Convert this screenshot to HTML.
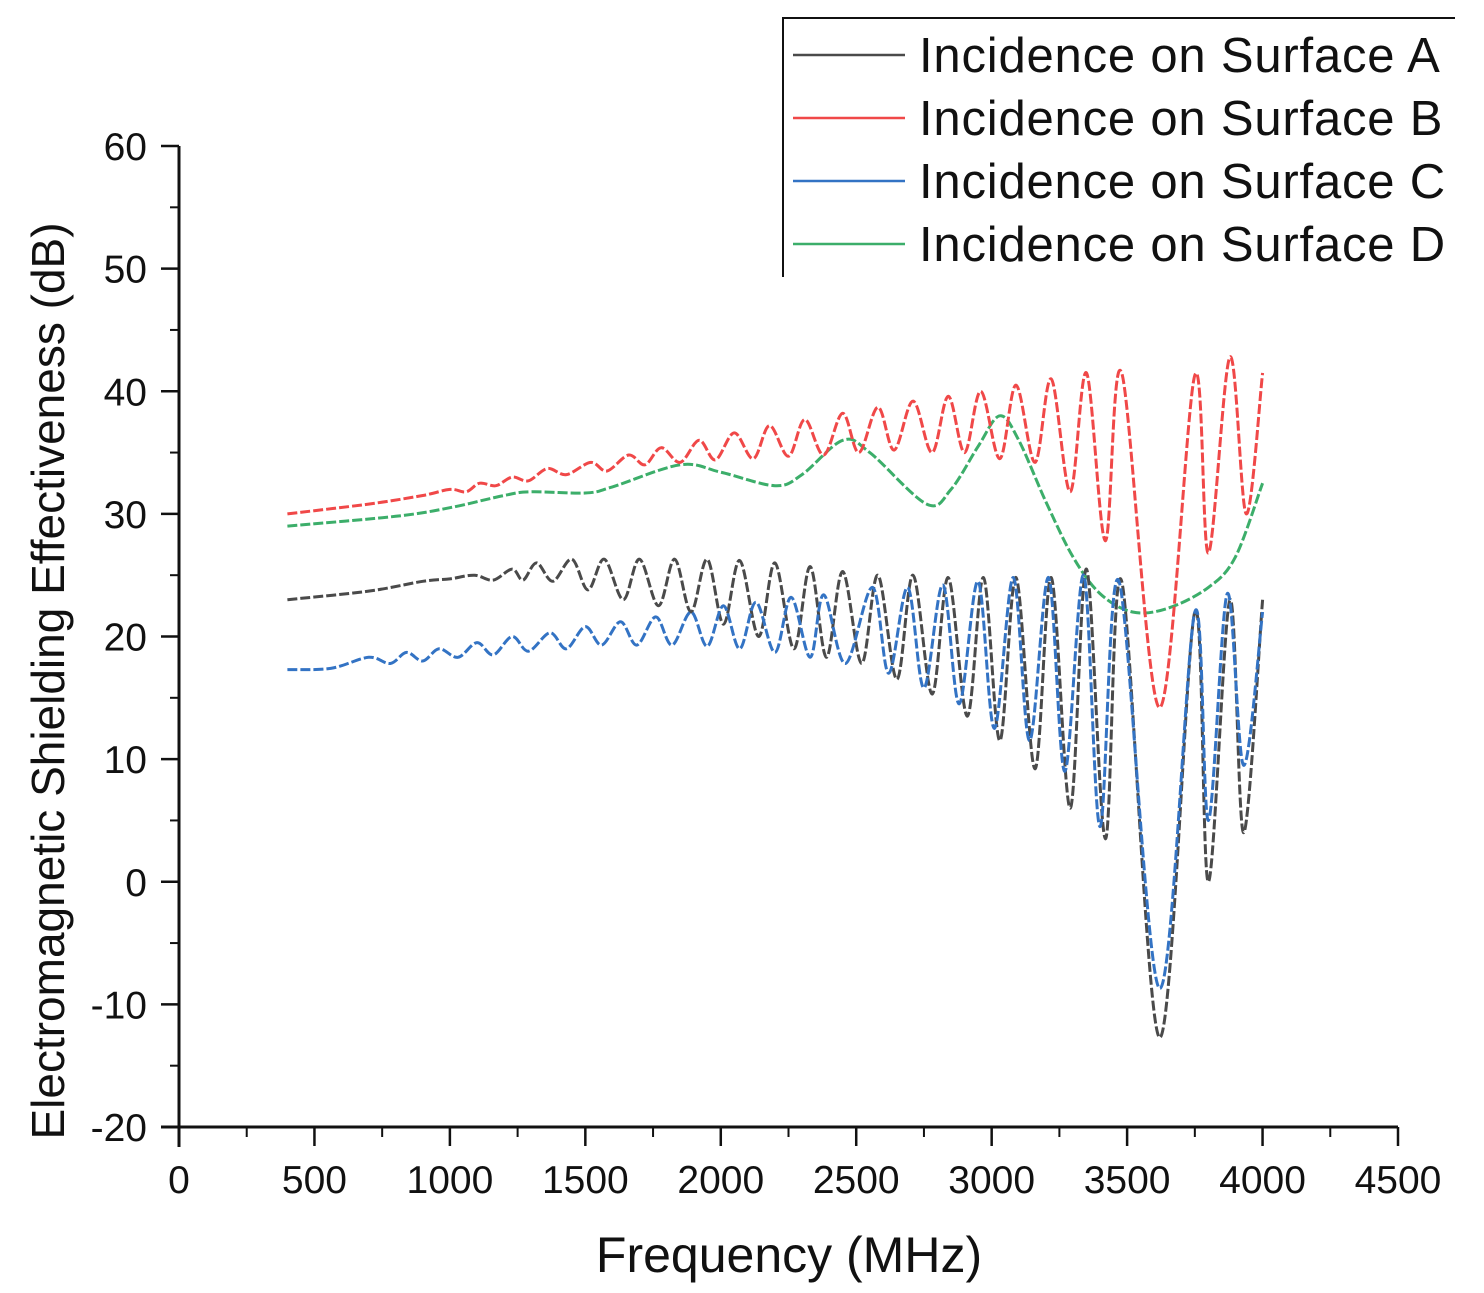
<!DOCTYPE html>
<html><head><meta charset="utf-8"><style>
html,body{margin:0;padding:0;background:#fff;}
svg{display:block;font-family:"Liberation Sans",Arial,sans-serif;}
</style></head><body>
<svg id="chart" width="1484" height="1293" viewBox="0 0 1484 1293" xmlns="http://www.w3.org/2000/svg">
<g id="axes"></g>
<g id="series"></g>
<g id="legend">
  <path d="M783,277 L783,18 L1455,18" fill="none" stroke="#111" stroke-width="2"/>
</g>
<text x="789" y="1272" font-size="50" text-anchor="middle" fill="#111">Frequency (MHz)</text>
<text transform="translate(64,681) rotate(-90)" font-size="46" text-anchor="middle" fill="#111">Electromagnetic Shielding Effectiveness (dB)</text>
</svg>
<script>
const xTicks = [0,500,1000,1500,2000,2500,3000,3500,4000,4500];
const yTicks = [-20,-10,0,10,20,30,40,50,60];
const seriesNames = ["Incidence on Surface A","Incidence on Surface B","Incidence on Surface C","Incidence on Surface D"];
const freqA = [400,700,900,1000,1090,1160,1230,1270,1320,1380,1450,1510,1570,1640,1700,1770,1830,1890,1950,2010,2070,2140,2200,2270,2330,2390,2450,2520,2580,2650,2710,2780,2840,2910,2970,3030,3090,3160,3220,3290,3350,3420,3480,3620,3750,3800,3880,3930,4000];
const valA  = [23,23.7,24.5,24.7,25,24.6,25.5,24.6,26,24.5,26.3,23.8,26.3,23,26.3,22.5,26.3,22,26.3,21,26.2,20,26,19,25.7,18.3,25.3,17.8,25,16.5,25,15.3,24.8,13.5,24.8,11.5,24.8,9.2,24.8,6,25.5,3.5,24.5,-12.7,22,0,23,4,23];
const freqB = [400,700,900,1000,1060,1110,1170,1230,1290,1360,1430,1520,1580,1660,1720,1780,1850,1920,1980,2050,2120,2180,2250,2310,2380,2450,2510,2580,2640,2710,2780,2840,2900,2960,3030,3090,3160,3220,3290,3350,3420,3480,3620,3750,3800,3880,3940,4000];
const valB  = [30,30.8,31.5,32,31.8,32.5,32.3,33,32.7,33.7,33.2,34.2,33.5,34.8,34,35.4,34.2,36,34.4,36.6,34.5,37.2,34.7,37.7,34.8,38.2,35,38.7,35.2,39.2,35,39.6,35,40,34.5,40.5,34.2,41,31.8,41.5,27.8,41.5,14.2,41.3,26.8,42.8,30,41.5];
const freqC = [400,560,700,780,840,900,960,1030,1100,1160,1230,1290,1370,1430,1500,1560,1630,1690,1760,1820,1890,1950,2010,2070,2130,2200,2260,2330,2380,2460,2560,2620,2690,2750,2820,2880,2950,3010,3080,3140,3210,3270,3340,3400,3470,3620,3750,3800,3870,3930,4000];
const valC  = [17.3,17.4,18.3,17.8,18.7,18,19,18.3,19.5,18.5,20,18.8,20.3,19,20.8,19.3,21.2,19.3,21.6,19.3,22,19.2,22.5,19,22.8,18.7,23.2,18.3,23.4,17.8,24,17,24,15.8,24.2,14.5,24.5,12.5,24.8,11.5,24.8,9,25,4.5,24.5,-8.7,22,5,23.5,9.5,22];
const freqD = [400,800,1000,1200,1300,1500,1600,1850,2000,2200,2300,2450,2550,2760,2850,2950,3030,3100,3200,3300,3400,3520,3650,3800,3900,4000];
const valD  = [29,29.8,30.5,31.5,31.8,31.7,32.2,34,33.4,32.3,33.2,36,35,30.8,32,35.5,38,36,31,26.5,23.5,22,22.3,24,26.5,32.5];

const NS="http://www.w3.org/2000/svg";
const X0=179,X1=1398,Y0=1127,Y1=146;
function xs(f){return X0+(f-0)/(4500-0)*(X1-X0);}
function ys(v){return Y0-(v+20)/80*(Y0-Y1);}
function mk(tag,attrs,parent){const e=document.createElementNS(NS,tag);for(const k in attrs)e.setAttribute(k,attrs[k]);parent.appendChild(e);return e;}
const axes=document.getElementById('axes');
let e;
e=mk('line',{x1:X0,y1:Y1,x2:X0,y2:Y0+20,stroke:'#111','stroke-width':3},axes);


e=mk('line',{x1:X0-18,y1:Y0,x2:X1,y2:Y0,stroke:'#111','stroke-width':3},axes);


xTicks.forEach((t,i)=>{
  const x=xs(t);
  e=mk('line',{x1:x,y1:Y0,x2:x,y2:Y0+19,stroke:'#111','stroke-width':2.5},axes);
  
  
  if(i<xTicks.length-1){const xm=xs(t+250);
    e=mk('line',{x1:xm,y1:Y0,x2:xm,y2:Y0+10,stroke:'#111','stroke-width':2},axes);
    
    }
  e=mk('text',{x:x,y:1193,'font-size':39,'text-anchor':'middle',fill:'#111'},axes);
  e.textContent=t;
  
  
});
yTicks.forEach((t,i)=>{
  const y=ys(t);
  e=mk('line',{x1:X0-18,y1:y,x2:X0,y2:y,stroke:'#111','stroke-width':2.5},axes);
  
  
  if(i<yTicks.length-1){const ym=ys(t+5);
    e=mk('line',{x1:X0-9,y1:ym,x2:X0,y2:ym,stroke:'#111','stroke-width':2},axes);
    
    }
  e=mk('text',{x:147,y:y+14,'font-size':39,'text-anchor':'end',fill:'#111'},axes);
  e.textContent=t;
  
  
});
function pathFor(fr,vals){
  const p=fr.map((f,i)=>[xs(f),ys(vals[i])]);
  let d='M'+p[0][0].toFixed(1)+','+p[0][1].toFixed(1);
  for(let i=0;i<p.length-1;i++){
    const p0=p[Math.max(0,i-1)],p1=p[i],p2=p[i+1],p3=p[Math.min(p.length-1,i+2)];
    const c1=[p1[0]+(p2[0]-p0[0])/6,p1[1]+(p2[1]-p0[1])/6];
    const c2=[p2[0]-(p3[0]-p1[0])/6,p2[1]-(p3[1]-p1[1])/6];
    d+=' C'+c1[0].toFixed(1)+','+c1[1].toFixed(1)+' '+c2[0].toFixed(1)+','+c2[1].toFixed(1)+' '+p2[0].toFixed(1)+','+p2[1].toFixed(1);
  }
  return d;
}
const colors=['#4a4a4a','#f04848','#3373c4','#3cae6a'];
const data=[[freqA,valA],[freqB,valB],[freqC,valC],[freqD,valD]];
const names=['series-a-line','series-b-line','series-c-line','series-d-line'];
const sg=document.getElementById('series');
[3,1,0,2].forEach(i=>{
  e=mk('path',{d:pathFor(data[i][0],data[i][1]),fill:'none',stroke:colors[i],'stroke-width':3,'stroke-dasharray':'10,3','stroke-linejoin':'round'},sg);
  
  
});
const lg=document.getElementById('legend');
seriesNames.forEach((n,i)=>{
  const y=55+i*63;
  e=mk('line',{x1:793,y1:y,x2:905,y2:y,stroke:colors[i],'stroke-width':2.5},lg);
  
  
  e=mk('text',{x:919,y:y+17,'font-size':49,'letter-spacing':0.8,fill:'#111'},lg);
  e.textContent=n;
  
  
});
</script>
</body></html>
